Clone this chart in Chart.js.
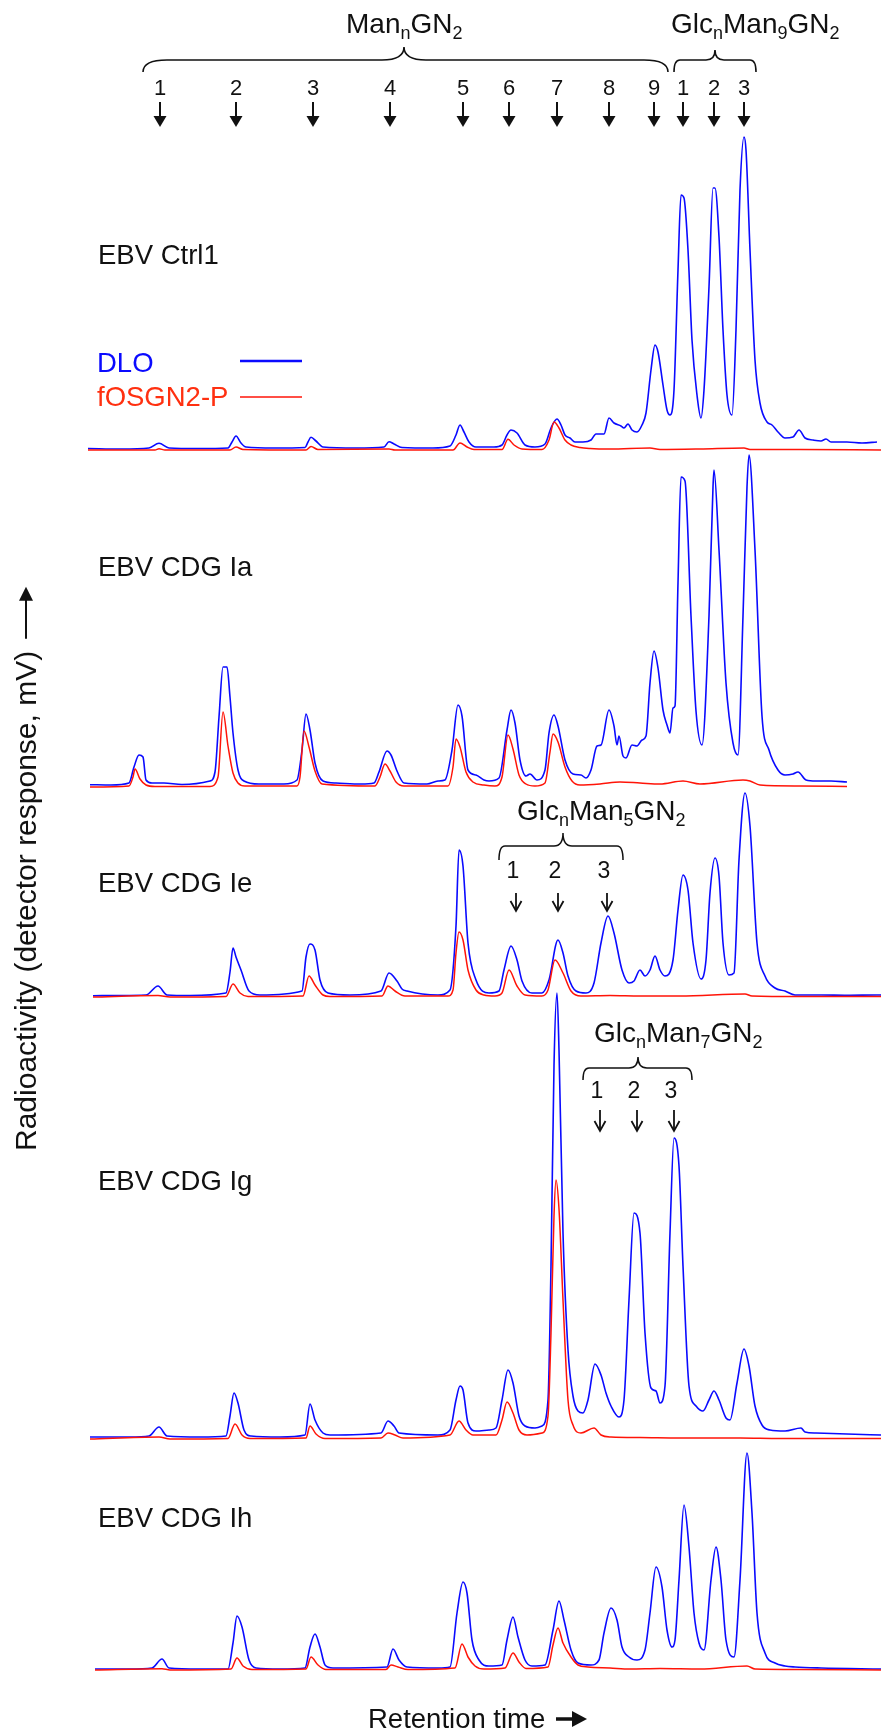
<!DOCTYPE html>
<html>
<head>
<meta charset="utf-8">
<script src="https://cdn.jsdelivr.net/npm/chart.js@4.4.0/dist/chart.umd.min.js"></script>
<style>
  html, body { margin: 0; padding: 0; background: #fff; }
  canvas { display: block; }
</style>
</head>
<body>
<canvas id="chart" width="881" height="1735"></canvas>
<script>
// retention time (arbitrary units) vs detector response (mV, arbitrary)
const panelNames = ['EBV Ctrl1', 'EBV CDG Ia', 'EBV CDG Ie', 'EBV CDG Ig', 'EBV CDG Ih'];
const seriesNames = ['DLO', 'fOSGN2-P'];

const ctrl1Dlo = [[0.8,1.5],[4.1,1],[6.9,2],[7.9,6.7],[8.9,2],[11.8,1.5],[14.8,2],[15.2,8],[15.6,14],[16.1,7],[16.6,3],[19.4,2],[22.5,2.5],[22.8,8],[23.1,12.7],[23.6,9],[24.3,3],[27.6,2],[30.4,3],[30.9,8.3],[31.4,6],[32.2,2.5],[35.3,2],[37.0,4],[37.6,15],[38.0,25],[38.4,18],[38.9,8],[39.6,3],[41.4,3],[42.2,5],[42.7,15],[43.1,20],[43.7,17],[44.5,5],[45.5,3],[46.5,6],[47.1,22],[47.7,31],[48.1,25],[48.5,15],[49.0,12],[49.5,8],[50.3,8],[51.1,10],[51.6,16],[52.4,16],[52.9,32],[53.4,27],[54.1,24],[54.4,22],[54.8,26],[55.2,20],[55.7,18],[56.2,25],[56.6,37],[57.1,80],[57.5,105],[57.8,98],[58.3,65],[58.7,40],[59.0,35],[59.4,60],[59.8,180],[60.1,255],[60.4,252],[60.8,200],[61.2,110],[61.7,55],[62.1,32],[62.4,60],[62.9,163],[63.3,262],[63.5,262],[63.9,213],[64.3,120],[64.7,55],[65.2,35],[65.6,120],[66.0,260],[66.4,313],[66.6,300],[67.0,200],[67.5,90],[68.0,47],[68.7,28],[69.2,25],[69.8,18],[70.5,12],[71.3,13],[71.9,20],[72.5,12],[73.3,10],[74.1,9],[74.6,11],[75.1,8],[76.7,8],[78.2,7],[79.7,8]];
const ctrl1Fos = [[0.8,0],[7.5,0],[7.9,1.2],[8.5,0],[15.0,0],[15.6,3],[16.3,0.5],[22.6,0],[23.1,3.5],[23.8,0.5],[30.9,1],[31.5,0],[37.3,0],[38.0,7],[38.7,3],[39.4,0.5],[42.2,0.5],[42.8,10.7],[43.4,5],[44.2,1],[46.2,0.5],[46.9,10],[47.4,28],[47.9,22],[48.5,10],[49.1,5],[50.0,2.5],[51.0,1.5],[53.0,1],[57.0,2],[58.0,0.5],[62.0,1],[66.4,2],[67.0,0.5],[72.0,0.5],[80.1,0]];

const iaDlo = [[1.0,2.3],[3.1,2],[4.9,4],[5.4,20],[5.9,32],[6.3,30],[6.6,7],[7.2,4],[8.4,4],[10.2,2.5],[13.0,6],[13.5,15],[13.9,70],[14.3,120],[14.7,120],[15.0,90],[15.3,54],[15.8,17],[16.4,6],[17.9,3],[20.4,3],[21.7,7],[22.2,37],[22.6,73],[23.0,57],[23.5,24],[24.3,6],[25.6,4],[28.1,3],[29.4,4],[29.9,15],[30.7,36],[31.1,32],[31.7,16],[32.4,4],[34.7,3],[35.8,6],[36.5,7],[37.2,37],[37.8,82],[38.2,71],[38.8,17],[39.6,12],[40.4,7],[40.9,6],[41.9,9],[42.7,57],[43.1,77],[43.5,64],[44.0,27],[44.6,11],[45.0,13],[45.7,7],[46.5,17],[46.9,54],[47.4,72],[47.8,61],[48.5,27],[49.3,13],[50.1,12],[50.6,9],[51.1,17],[51.7,41],[52.1,42],[52.9,77],[53.4,61],[53.7,42],[53.9,51],[54.3,31],[54.6,29],[55.2,42],[55.7,41],[56.2,47],[56.6,51],[57.0,104],[57.4,136],[57.8,119],[58.3,77],[58.7,62],[59.0,54],[59.3,79],[59.5,81],[59.8,204],[60.1,310],[60.5,306],[61.1,171],[61.6,76],[62.2,42],[62.9,171],[63.3,300],[63.4,317],[63.9,237],[64.6,104],[65.3,44],[65.8,32],[66.3,171],[66.7,300],[66.9,332],[67.5,237],[68.2,71],[68.9,37],[69.8,17],[70.5,12],[71.3,13],[71.8,15],[72.6,7],[73.6,6],[75.1,6],[76.7,5]];
const iaFos = [[1.0,0],[4.9,1],[5.3,10],[5.5,18],[6.0,8],[6.6,2],[7.5,0.5],[13.0,0.5],[13.8,10],[14.3,75],[14.8,41],[15.3,14],[15.8,4],[16.5,1],[21.7,1],[22.0,10],[22.4,56],[22.9,40],[23.5,16],[24.2,3],[29.5,1],[30.0,10],[30.5,23],[31.0,16],[31.6,5],[32.4,1],[36.8,1],[37.3,20],[37.6,48],[38.0,40],[38.6,15],[39.3,5],[40.4,2],[41.5,1],[42.2,10],[42.8,52],[43.3,38],[43.9,12],[44.6,3],[45.5,1],[46.5,4],[47.0,35],[47.3,53],[47.8,45],[48.5,20],[49.2,6],[50.0,2],[52.0,3],[54.0,5],[56.0,4],[58.0,3],[60.3,6],[62.0,3],[66.3,7],[67.0,6],[68.0,2],[72.0,1],[76.7,0.5]];

const ieDlo = [[1.3,1.3],[4.0,1.5],[6.6,2],[7.8,11],[8.7,2],[11.0,1.5],[14.6,4],[15.0,25],[15.3,49],[15.6,40],[16.1,27],[16.9,6],[18.0,2],[22.2,6],[22.6,40],[23.0,53],[23.5,47],[24.0,17],[24.8,4],[27.0,2],[30.1,6],[30.9,24],[31.7,16],[32.2,8],[32.7,6],[35.8,2],[37.0,7],[37.6,71],[37.9,147],[38.3,131],[38.8,54],[39.6,17],[40.9,4],[41.9,6],[42.4,27],[43.1,51],[43.7,37],[44.2,16],[45.2,4],[46.2,4],[46.9,17],[47.8,57],[48.3,44],[48.8,21],[49.6,6],[50.6,4],[51.4,14],[52.1,54],[52.8,81],[53.4,64],[54.2,27],[54.9,14],[55.4,16],[56.0,27],[56.5,21],[57.0,27],[57.5,41],[58.0,27],[58.5,21],[59.3,37],[59.8,87],[60.3,122],[60.8,107],[61.3,54],[62.1,18],[62.6,37],[63.0,104],[63.5,139],[63.9,121],[64.3,54],[64.9,22],[65.4,24],[65.9,137],[66.5,204],[67.0,171],[67.7,54],[68.5,21],[69.5,9],[70.5,6],[71.5,2],[74.1,2],[76.7,1.7],[79.7,2],[80.1,2]];
const ieFos = [[1.3,0],[7.8,1.5],[9.0,0],[14.6,0.5],[15.3,13],[16.0,4],[16.8,0.5],[22.3,1],[22.9,21],[23.5,12],[24.3,2],[25.0,0.5],[30.2,1],[30.8,11],[31.5,6],[32.5,1],[36.8,1],[37.3,7],[37.6,44],[37.9,65],[38.3,57],[38.8,27],[39.6,7],[40.4,2],[41.5,1],[42.2,4],[42.9,27],[43.7,11],[44.5,2],[46.2,1],[46.8,7],[47.5,37],[48.3,24],[49.1,6],[50.1,1],[53.0,1.5],[56.0,1],[60.0,1],[66.5,3],[67.2,1],[72.0,0.5],[80.1,0.5]];

const igDlo = [[1.0,2],[5.0,2],[6.9,3],[7.9,12],[8.7,3],[12.0,2],[14.6,3],[15.0,23],[15.4,46],[15.8,36],[16.4,9],[17.1,3],[20.0,2],[22.5,4],[23.0,35],[23.5,19],[24.3,6],[25.0,4],[30.1,6],[30.8,18],[31.4,13],[31.9,6],[35.8,4],[37.0,9],[37.6,39],[38.0,53],[38.3,49],[38.8,16],[39.6,8],[40.9,9],[41.6,11],[42.2,39],[42.8,69],[43.3,56],[43.9,23],[44.5,13],[45.5,11],[46.2,13],[46.8,39],[47.1,173],[47.4,373],[47.7,446],[47.9,389],[48.3,206],[48.8,89],[49.3,43],[49.8,28],[50.3,26],[50.8,39],[51.5,75],[52.1,64],[52.6,46],[53.1,33],[53.9,22],[54.4,39],[54.9,139],[55.4,226],[56.0,206],[56.5,106],[57.1,51],[57.6,48],[58.0,36],[58.5,53],[59.0,206],[59.4,301],[59.9,273],[60.3,173],[60.9,53],[61.6,33],[62.3,28],[62.9,39],[63.4,48],[63.9,39],[64.6,21],[65.0,19],[65.7,56],[66.4,90],[66.9,73],[67.5,33],[68.2,14],[69.0,9],[70.5,8],[72.1,11],[72.5,7],[73.6,6],[76.7,5],[80.1,4]];
const igFos = [[1.0,0],[7.9,2],[9.0,0],[14.8,0.5],[15.5,15],[16.2,4],[17.0,0.5],[22.6,1],[23.0,13],[23.6,5],[24.5,0.5],[30.1,1],[30.8,6],[31.5,4],[32.3,1],[37.0,4],[37.9,18],[38.6,9],[39.3,4],[41.6,4],[42.2,19],[42.7,37],[43.3,26],[43.9,9],[44.7,4],[46.2,6],[46.8,23],[47.1,106],[47.4,223],[47.6,259],[47.9,230],[48.3,139],[48.8,39],[49.3,14],[50.1,6],[51.4,11],[52.1,4],[53.1,2],[56.0,1.5],[60.0,1],[66.0,1],[70.0,0.5],[80.1,0.5]];

const ihDlo = [[1.5,1],[5.0,1],[7.2,2],[8.2,11],[8.9,2],[12.0,1],[14.8,1],[15.3,27],[15.7,54],[16.2,43],[16.9,10],[17.6,2],[20.0,1],[22.5,2],[23.0,23],[23.5,36],[24.0,23],[24.5,5],[25.3,2],[30.7,3],[31.3,21],[31.9,10],[32.7,3],[35.8,2],[37.0,3],[37.7,57],[38.3,88],[38.7,77],[39.2,30],[39.9,10],[40.9,4],[42.2,5],[42.7,30],[43.3,53],[43.8,33],[44.5,10],[45.2,4],[46.5,5],[47.3,40],[47.9,69],[48.4,50],[49.1,20],[49.8,7],[51.1,5],[51.9,10],[52.4,37],[53.1,62],[53.7,50],[54.2,23],[54.9,13],[55.7,10],[56.5,20],[57.0,57],[57.6,103],[58.2,83],[58.7,40],[59.2,23],[59.5,30],[59.9,90],[60.4,165],[60.9,123],[61.4,57],[61.9,27],[62.4,20],[63.1,90],[63.6,123],[64.1,90],[64.6,30],[65.4,13],[66.0,90],[66.7,217],[67.2,157],[67.7,57],[68.5,17],[69.5,7],[70.5,4],[71.5,3],[74.1,2],[80.1,1]];
const ihFos = [[1.5,0],[8.2,1.3],[9.0,0],[15.1,1],[15.7,12],[16.3,4],[17.2,0.5],[22.6,1],[23.1,13],[23.8,5],[24.6,0.5],[30.6,0.5],[31.1,5],[31.8,3],[32.8,0.5],[37.5,2],[38.2,26],[38.8,13],[39.5,4],[40.4,1],[42.5,2],[43.3,17],[43.9,8],[44.6,1.5],[46.8,3],[47.3,25],[47.8,42],[48.3,27],[49.1,13],[49.8,5],[50.8,3],[53.0,2],[55.0,1],[58.0,1.5],[62.0,1],[66.7,4],[67.5,1],[72.0,0.5],[80.1,0]];

const dloSeries = [ctrl1Dlo, iaDlo, ieDlo, igDlo, ihDlo];
const fosSeries = [ctrl1Fos, iaFos, ieFos, igFos, ihFos];

// peak markers (retention times)
const manPeaks = [8.0, 15.6, 23.3, 31.0, 38.3, 42.9, 47.7, 52.9, 57.4];
const glcMan9Peaks = [60.3, 63.4, 66.4];
const glcMan5Peaks = [43.6, 47.8, 52.7];
const glcMan7Peaks = [52.0, 55.7, 59.4];

// layout (pixels)
const W = 881, H = 1735;
const baseY = [450, 787, 997, 1439, 1670];
const labelY = [264, 576, 892, 1190, 1527];
const BLUE = '#0a0aff';
const RED = '#ff1408';
const FONT = '"Liberation Sans", Arial, Helvetica, sans-serif';

const datasets = [];
const scales = { x: { type: 'linear', min: 0, max: 80.1, display: false } };
panelNames.forEach((name, i) => {
  scales['y' + i] = { type: 'linear', display: false, min: baseY[i] - H, max: baseY[i] };
  datasets.push({ label: name + ' ' + seriesNames[0], data: dloSeries[i], yAxisID: 'y' + i,
    borderColor: BLUE, borderWidth: 1.6, order: 2 });
  datasets.push({ label: name + ' ' + seriesNames[1], data: fosSeries[i], yAxisID: 'y' + i,
    borderColor: RED, borderWidth: 1.5, order: 1 });
});

function subText(ctx, parts, x, y, size) {
  let cx = x;
  parts.forEach(p => {
    const sub = p[1];
    ctx.font = (sub ? Math.round(size * 0.66) : size) + 'px ' + FONT;
    ctx.fillText(p[0], cx, sub ? y + size * 0.2 : y);
    cx += ctx.measureText(p[0]).width;
  });
}

function brace(ctx, x1, x2, xm, yEnd, yBar, yTip, r, r2) {
  ctx.beginPath();
  ctx.moveTo(x1, yEnd);
  ctx.quadraticCurveTo(x1, yBar, x1 + r, yBar);
  ctx.lineTo(xm - r2, yBar);
  ctx.quadraticCurveTo(xm, yBar, xm, yTip);
  ctx.quadraticCurveTo(xm, yBar, xm + r2, yBar);
  ctx.lineTo(x2 - r, yBar);
  ctx.quadraticCurveTo(x2, yBar, x2, yEnd);
  ctx.stroke();
}

function solidArrow(ctx, x, y1, y2) {
  ctx.lineWidth = 2;
  ctx.beginPath(); ctx.moveTo(x, y1); ctx.lineTo(x, y2 - 8); ctx.stroke();
  ctx.beginPath(); ctx.moveTo(x - 6.5, y2 - 11); ctx.lineTo(x + 6.5, y2 - 11); ctx.lineTo(x, y2); ctx.closePath(); ctx.fill();
}

function openArrow(ctx, x, y1, y2) {
  ctx.lineWidth = 1.8;
  ctx.beginPath(); ctx.moveTo(x, y1); ctx.lineTo(x, y2); ctx.stroke();
  ctx.beginPath(); ctx.moveTo(x - 5.5, y2 - 10); ctx.lineTo(x, y2); ctx.lineTo(x + 5.5, y2 - 10); ctx.stroke();
}

const annotations = {
  id: 'annotations',
  afterDraw(chart) {
    const ctx = chart.ctx;
    const xs = chart.scales.x;
    const px = t => xs.getPixelForValue(t);
    ctx.save();
    ctx.fillStyle = '#111';
    ctx.strokeStyle = '#111';
    ctx.textBaseline = 'alphabetic';

    // top: Man(n)GN2 and Glc(n)Man9GN2
    subText(ctx, [['Man', 0], ['n', 1], ['GN', 0], ['2', 1]], 346, 33, 28);
    subText(ctx, [['Glc', 0], ['n', 1], ['Man', 0], ['9', 1], ['GN', 0], ['2', 1]], 671, 33, 28);
    ctx.lineWidth = 1.6;
    brace(ctx, px(6.3), px(58.8), px(32.4), 72, 60, 47, 24, 22);
    brace(ctx, px(59.4), px(67.6), px(63.5), 72, 60, 50, 6, 9);
    ctx.textAlign = 'center';
    ctx.font = '22px ' + FONT;
    manPeaks.concat(glcMan9Peaks).forEach((t, i) => {
      const n = i < manPeaks.length ? i + 1 : i - manPeaks.length + 1;
      ctx.fillText(String(n), px(t), 95);
      solidArrow(ctx, px(t), 102, 127);
    });

    // CDG Ie: Glc(n)Man5GN2
    ctx.textAlign = 'left';
    subText(ctx, [['Glc', 0], ['n', 1], ['Man', 0], ['5', 1], ['GN', 0], ['2', 1]], 517, 820, 28);
    ctx.lineWidth = 1.5;
    brace(ctx, px(41.9), px(54.3), px(48.3), 860, 846, 833, 6, 9);
    ctx.textAlign = 'center';
    ctx.font = '23px ' + FONT;
    glcMan5Peaks.forEach((t, i) => {
      ctx.fillText(String(i + 1), px(t) - 3, 878);
      openArrow(ctx, px(t), 893, 911);
    });

    // CDG Ig: Glc(n)Man7GN2
    ctx.textAlign = 'left';
    subText(ctx, [['Glc', 0], ['n', 1], ['Man', 0], ['7', 1], ['GN', 0], ['2', 1]], 594, 1042, 28);
    ctx.lineWidth = 1.5;
    brace(ctx, px(50.3), px(61.2), px(55.8), 1080, 1068, 1057, 6, 9);
    ctx.textAlign = 'center';
    ctx.font = '23px ' + FONT;
    glcMan7Peaks.forEach((t, i) => {
      ctx.fillText(String(i + 1), px(t) - 3, 1098);
      openArrow(ctx, px(t), 1110, 1131);
    });

    // panel labels
    ctx.textAlign = 'left';
    ctx.font = '27.5px ' + FONT;
    panelNames.forEach((name, i) => ctx.fillText(name, 98, labelY[i]));

    // legend
    ctx.font = '27.5px ' + FONT;
    ctx.fillStyle = BLUE;
    ctx.fillText(seriesNames[0], 97, 372);
    ctx.fillStyle = '#ff3010';
    ctx.fillText(seriesNames[1], 97, 406);
    ctx.lineWidth = 2.4; ctx.strokeStyle = BLUE;
    ctx.beginPath(); ctx.moveTo(240, 361); ctx.lineTo(302, 361); ctx.stroke();
    ctx.lineWidth = 1.5; ctx.strokeStyle = RED;
    ctx.beginPath(); ctx.moveTo(240, 397); ctx.lineTo(302, 397); ctx.stroke();

    // x title
    ctx.fillStyle = '#111'; ctx.strokeStyle = '#111';
    ctx.font = '27.5px ' + FONT;
    ctx.fillText('Retention time', 368, 1728);
    ctx.lineWidth = 3.5;
    ctx.beginPath(); ctx.moveTo(556, 1719); ctx.lineTo(574, 1719); ctx.stroke();
    ctx.beginPath(); ctx.moveTo(572, 1711); ctx.lineTo(587, 1719); ctx.lineTo(572, 1727); ctx.closePath(); ctx.fill();

    // y title
    ctx.save();
    ctx.translate(36, 1151);
    ctx.rotate(-Math.PI / 2);
    ctx.font = '30px ' + FONT;
    const yt = 'Radioactivity (detector response, mV)';
    ctx.fillText(yt, 0, 0);
    const w = ctx.measureText(yt).width;
    ctx.lineWidth = 2;
    ctx.beginPath(); ctx.moveTo(w + 12, -10); ctx.lineTo(w + 54, -10); ctx.stroke();
    ctx.beginPath(); ctx.moveTo(w + 50, -17); ctx.lineTo(w + 64, -10); ctx.lineTo(w + 50, -3); ctx.closePath(); ctx.fill();
    ctx.restore();

    ctx.restore();
  }
};

new Chart(document.getElementById('chart'), {
  type: 'line',
  data: { datasets },
  options: {
    responsive: false,
    animation: false,
    devicePixelRatio: 1,
    layout: { padding: { left: 80, right: 0, top: 0, bottom: 0 } },
    elements: {
      point: { radius: 0 },
      line: { cubicInterpolationMode: 'monotone', fill: false }
    },
    scales,
    plugins: { legend: { display: false }, tooltip: { enabled: false } }
  },
  plugins: [annotations]
});
</script>
</body>
</html>
